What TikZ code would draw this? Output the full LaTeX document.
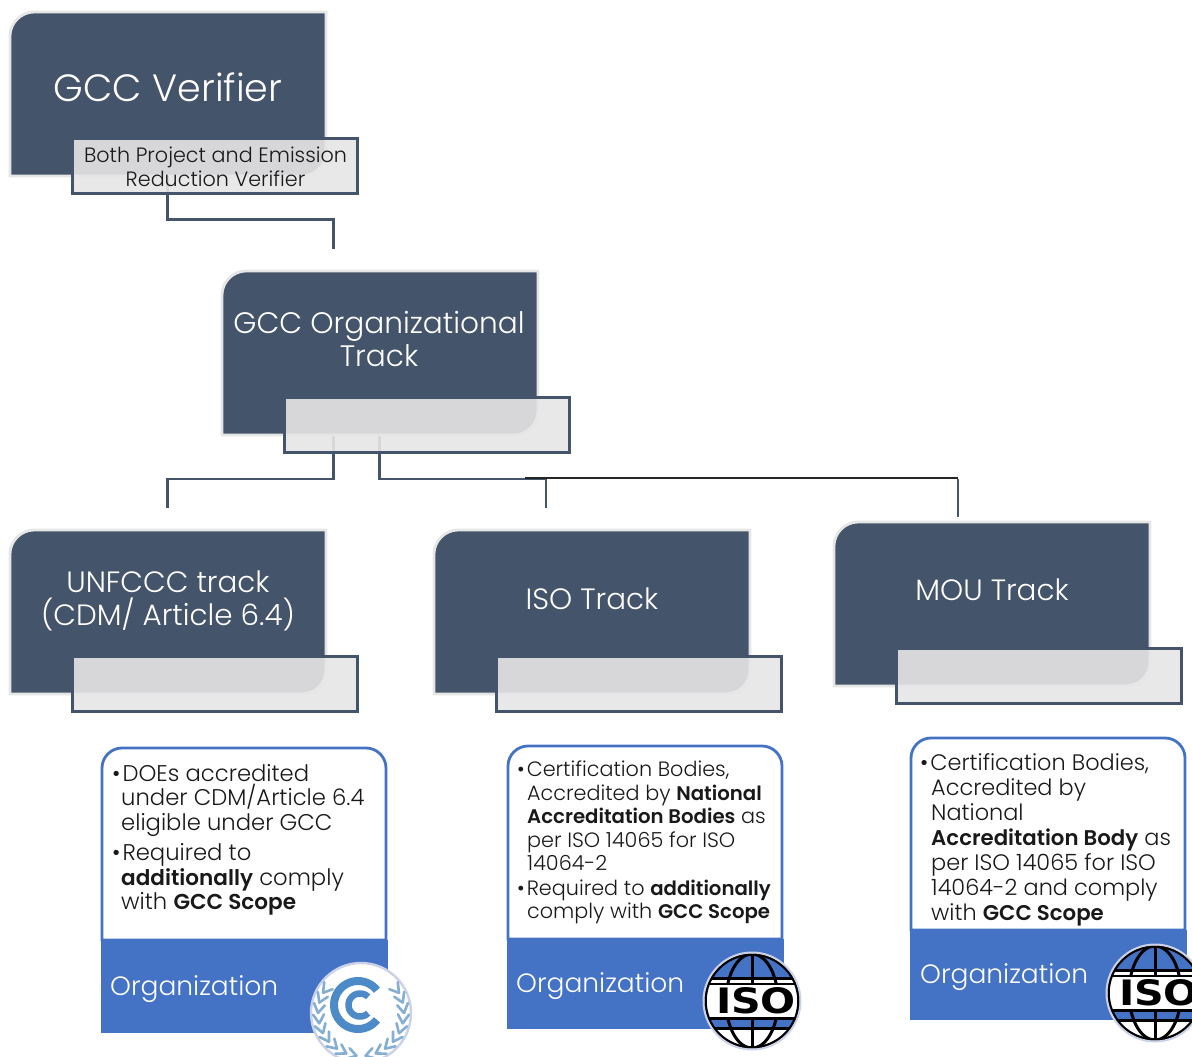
\documentclass[tikz,border=0pt]{standalone}
\usepackage{fontspec}
\usepackage{graphicx}
\setmainfont{Poppins Light}[BoldFont={Poppins SemiBold},BoldFeatures={Scale=0.95}]
\newfontfamily\logofont{DejaVu Sans}
\usetikzlibrary{calc}
\definecolor{slate}{HTML}{44546A}
\definecolor{cardedge}{HTML}{E7E6E6}
\definecolor{orgblue}{HTML}{4472C4}
\definecolor{unblue}{HTML}{4C8BC8}
\definecolor{leafblue}{HTML}{85AED3}
\definecolor{ringlav}{HTML}{CBD2E8}
\tikzset{
  x=1pt,y=-1pt,
  cardbox/.style={fill=slate,draw=cardedge,line width=2.8pt},
  tagbox/.style={fill=cardedge,fill opacity=.9,draw=slate,line width=2.8pt,draw opacity=1},
  link/.style={draw=slate,line width=2.8pt},
  thinlink/.style={draw=black!85,line width=1.3pt},
  cardtext/.style={text=white,align=center,inner sep=0pt},
  tracktext/.style={cardtext,font=\fontsize{29.4}{33}\selectfont},
  orgtext/.style={text=white,anchor=west,inner sep=0pt,font=\fontsize{26.5}{27}\selectfont},
  listtext/.style={anchor=north west,inner sep=0pt,align=left,text=black!90},
  whitebox/.style={fill=white,draw=orgblue,line width=2.8pt},
  orgbar/.style={fill=orgblue,draw=none},
  isoline/.style={draw=black,line width=3pt},
  leaf/.style={draw=leafblue,line width=2.6pt,line cap=round},
}
% rounded top-left and bottom-right card, 316 x 164, with tag box
\newcommand{\cardshape}[2]{%
  \path[cardbox] (#1+24,#2) -- (#1+316,#2) -- (#1+316,#2+140)
     .. controls (#1+316,#2+153) and (#1+305,#2+164) .. (#1+292,#2+164)
     -- (#1,#2+164) -- (#1,#2+24)
     .. controls (#1,#2+11) and (#1+11,#2) .. (#1+24,#2) -- cycle;
}
\newcommand{\trackcard}[3]{%
  \cardshape{#2}{#3}
  \coordinate (#1) at (#2+158,#3+82);
  \path[tagbox] (#2+62.7,#3+126.7) rectangle (#2+347.5,#3+181.5);
}
\newcommand{\whitecard}[4]{% x0,y0,x1,y1
  \path[whitebox] (#1,#4) -- (#1,#2+20) .. controls (#1,#2+9) and (#1+9,#2) .. (#1+20,#2)
    -- (#3-20,#2) .. controls (#3-9,#2) and (#3,#2+9) .. (#3,#2+20) -- (#3,#4) -- cycle;
}
\newcommand{\isologo}[3]{%
  \begin{scope}
    \clip (0,0) rectangle (1192,1057);
    \fill[white] (#2,#3) circle[radius=48];
    \begin{scope}
      \clip (#2,#3) circle[radius=47];
      \fill[orgblue] (#2-48,#3-48) rectangle (#2+48,#3-23);
      \fill[orgblue] (#2-48,#3+17) rectangle (#2+48,#3+27);
      \draw[isoline] (#2,#3-48) -- (#2,#3+48);
      \draw[isoline] (#2,#3) ellipse[x radius=26,y radius=47];
      \draw[isoline] (#2-48,#3-23) -- (#2+48,#3-23);
      \draw[isoline] (#2-48,#3-17) -- (#2+48,#3-17);
      \draw[isoline] (#2-48,#3+17) -- (#2+48,#3+17);
      \draw[isoline] (#2-48,#3+27) -- (#2+48,#3+27);
      \fill[white] (#2-48,#3-16) rectangle (#2+48,#3+16);
    \end{scope}
    \draw[black,line width=2.5pt] (#2,#3) circle[radius=46.5];
    \draw[ringlav,line width=2pt] (#2,#3) circle[radius=48.5];
    \node[inner sep=0pt,font=\logofont\fontsize{36}{36}\selectfont\bfseries] (#1) at (#2+4,#3) {\resizebox{80pt}{26pt}{ISO}};
  \end{scope}
}
\begin{document}
\begin{tikzpicture}
\useasboundingbox (0,0) rectangle (1192,1057);
\fill[white] (0,0) rectangle (1192,1057);

% free connector ends
\coordinate (vEnd) at (333.7,249);
\coordinate (unEnd) at (167.7,508);
\coordinate (isoEnd) at (546,508);
\coordinate (mouEnd) at (958,517);
\coordinate (thinStart) at (525,478);

% top card
\cardshape{10}{12}
\coordinate (verifierC) at (168,94);
\draw[link] (167.7,176) -- (167.7,219.5) -- (333.7,219.5) -- (vEnd);
\path[tagbox] (72.7,138.7) rectangle (357.5,193.5);
\node[cardtext,font=\fontsize{38}{38}\selectfont] (verifier) at (168,87) {GCC Verifier};
\node[inner sep=0pt,align=center,text=black!90,font=\fontsize{20.7}{24}\selectfont] (verifierTag) at (215.5,166.5) {Both Project and Emission\\Reduction Verifier};

% organisational card
\draw[link] (333.7,435) -- (333.7,479) -- (167.7,479) -- (unEnd);
\draw[link] (379.7,435) -- (379.7,479) -- (546,479) -- (isoEnd);
\draw[link] (958,479) -- (mouEnd);
\draw[thinlink] (thinStart) -- (958,478);
\trackcard{orgC}{222}{271}
\node[cardtext,font=\fontsize{29.6}{33}\selectfont] (org) at (379,339) {GCC Organizational\\Track};

% track cards
\trackcard{unC}{10}{530}
\node[tracktext] (un) at (168,601) {UNFCCC track\\(CDM/ Article 6.4)};
\trackcard{isoC}{434}{530}
\node[tracktext] (iso) at (592,599) {ISO Track};
\trackcard{mouC}{834}{522}
\node[tracktext] (mou) at (992,590) {MOU Track};

% list card 1
\whitecard{102}{748}{386}{940}
\fill[orgbar] (100.5,940) rectangle (388,1033);
\node[orgtext] (org1) at (110,989) {Organization};
\node[listtext,font=\fontsize{22.7}{24.6}\selectfont] (list1) at (112,764) {%
  •\hspace{2pt}DOEs accredited\\
  \hspace*{9pt}under CDM/Article 6.4\\
  \hspace*{9pt}eligible under GCC\\[5.5pt]
  •\hspace{2pt}Required to\\
  \hspace*{9pt}\textbf{additionally} comply\\
  \hspace*{9pt}with \textbf{GCC Scope}};
% UNFCCC logo
\begin{scope}
  \clip (0,0) rectangle (1192,1057);
  \fill[white] (361,1013) circle[radius=50];
  \draw[ringlav,line width=2.4pt] (361,1013) circle[radius=50];
  \draw[unblue,line width=8pt] plot[domain=38:322,samples=40,smooth] ({358+24*cos(\x)},{1005-24*sin(\x)});
  \draw[unblue,line width=6.5pt] plot[domain=45:315,samples=40,smooth] ({360+11.5*cos(\x)},{1005-11.5*sin(\x)});
  \foreach \a in {-28,-14,...,84}{
    \draw[leaf] ({361+43*cos(\a)},{1013+43*sin(\a)}) -- ({361+48*cos(\a-12)},{1013+48*sin(\a-12)});
    \draw[leaf] ({361+43*cos(\a)},{1013+43*sin(\a)}) -- ({361+37*cos(\a-12)},{1013+37*sin(\a-12)});
    \draw[leaf] ({361-43*cos(\a)},{1013+43*sin(\a)}) -- ({361-48*cos(\a-12)},{1013+48*sin(\a-12)});
    \draw[leaf] ({361-43*cos(\a)},{1013+43*sin(\a)}) -- ({361-37*cos(\a-12)},{1013+37*sin(\a-12)});
  }
\end{scope}

% list card 2
\whitecard{508}{746}{782}{939}
\fill[orgbar] (506.5,939) rectangle (784,1029);
\node[orgtext] (org2) at (516,986) {Organization};
\node[listtext,font=\fontsize{20.75}{23.4}\selectfont] (list2) at (517,761) {%
  •\hspace{2pt}Certification Bodies,\\
  \hspace*{10pt}Accredited by \textbf{National}\\
  \hspace*{10pt}\textbf{Accreditation Bodies} as\\
  \hspace*{10pt}per ISO 14065 for ISO\\
  \hspace*{10pt}14064-2\\[1.5pt]
  •\hspace{2pt}Required to \textbf{additionally}\\
  \hspace*{10pt}comply with \textbf{GCC Scope}};
\isologo{isoA}{752}{1001}

% list card 3
\whitecard{911}{738}{1185}{930}
\fill[orgbar] (909.5,930) rectangle (1186.5,1020);
\node[orgtext] (org3) at (920,977) {Organization};
\node[listtext,font=\fontsize{22.4}{25.1}\selectfont] (list3) at (920,753) {%
  •\hspace{2pt}Certification Bodies,\\
  \hspace*{11pt}Accredited by\\
  \hspace*{11pt}National\\
  \hspace*{11pt}\textbf{Accreditation Body} as\\
  \hspace*{11pt}per ISO 14065 for ISO\\
  \hspace*{11pt}14064-2 and comply\\
  \hspace*{11pt}with \textbf{GCC Scope}};
\isologo{isoB}{1155}{993}
\end{tikzpicture}
\end{document}
